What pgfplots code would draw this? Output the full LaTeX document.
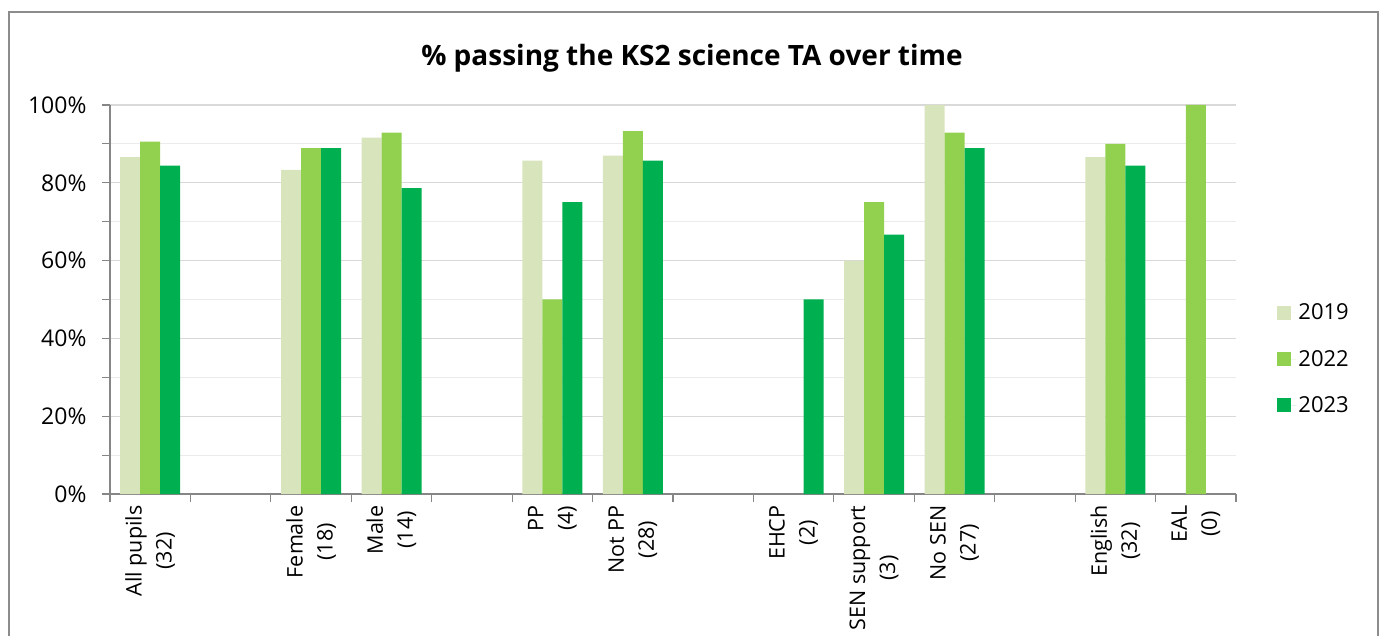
\documentclass[border=0pt]{standalone}
\usepackage{pgfplots}
\pgfplotsset{compat=1.18}
\usepackage{fontspec}
\setmainfont{Open Sans}
\definecolor{c19}{HTML}{D8E4BC}
\definecolor{c22}{HTML}{92D050}
\definecolor{c23}{HTML}{00B050}
\definecolor{axgray}{HTML}{868686}
\definecolor{gridmaj}{HTML}{D9D9D9}
\definecolor{gridmin}{HTML}{EBEBEB}
\definecolor{framegray}{HTML}{8C8C8C}
\pgfplotsset{/pgfplots/ybar legend/.style={/pgfplots/legend image code/.code={\fill[##1] (0pt,-7pt) rectangle (14pt,7pt); \path (0pt,0pt) -- (19pt,0pt);}}}
\begin{document}
\begin{tikzpicture}
\useasboundingbox (0,0) rectangle (1383pt,635pt);
\begin{axis}[
  at={(110pt,141pt)}, anchor=south west,
  scale only axis, width=1126pt, height=389pt,
  xmin=-0.5, xmax=13.5, ymin=0, ymax=100,
  axis x line*=bottom, axis y line*=left,
  axis line style={axgray, line width=1.2pt},
  ybar=0pt, bar width=20pt,
  xtick={-0.5,0.5,1.5,2.5,3.5,4.5,5.5,6.5,7.5,8.5,9.5,10.5,11.5,12.5,13.5},
  x tick label as interval,
  xticklabels={{All pupils\\(32)},{},{Female\\(18)},{Male\\(14)},{},{PP\\(4)},{Not PP\\(28)},{},{EHCP\\(2)},{SEN support\\(3)},{No SEN\\(27)},{},{English\\(32)},{EAL\\(0)}},
  xticklabel style={rotate=90, anchor=east, align=center, font=\fontsize{21.5}{30}\selectfont},
  ytick={0,20,40,60,80,100},
  yticklabels={0\%,20\%,40\%,60\%,80\%,100\%},
  minor ytick={10,30,50,70,90},
  yticklabel style={font=\fontsize{23}{26}\selectfont, xshift=-12pt},
  tick align=outside,
  major tick length=8pt, minor tick length=8pt,
  tick style={axgray, line width=1.2pt},
  ymajorgrids, yminorgrids,
  major grid style={gridmaj, line width=1.3pt},
  minor grid style={gridmin, line width=1.1pt},
  legend style={at={(1.034,0.347)}, anchor=west, draw=none, fill=none,
    font=\fontsize{22}{26}\selectfont, row sep=25pt},
  legend cell align=left,
]
\addplot[fill=c19, draw=none] coordinates {(0,86.6) (2,83.3) (3,91.6) (5,85.7) (6,87.0) (9,60) (10,100) (12,86.6)};
\addplot[fill=c22, draw=none] coordinates {(0,90.6) (2,88.9) (3,92.9) (5,50) (6,93.3) (9,75) (10,92.9) (12,90.0) (13,100)};
\addplot[fill=c23, draw=none] coordinates {(0,84.4) (2,88.9) (3,78.6) (5,75) (6,85.7) (8,50) (9,66.7) (10,88.9) (12,84.4)};
\legend{2019,2022,2023}
\end{axis}
\node[font=\bfseries\fontsize{28}{32}\selectfont] at (692pt,577pt) {\% passing the KS2 science TA over time};
\draw[framegray, line width=1.5pt] (9pt,-2pt) -- (9pt,623pt) -- (1378pt,623pt) -- (1378pt,-2pt);
\end{tikzpicture}
\end{document}
